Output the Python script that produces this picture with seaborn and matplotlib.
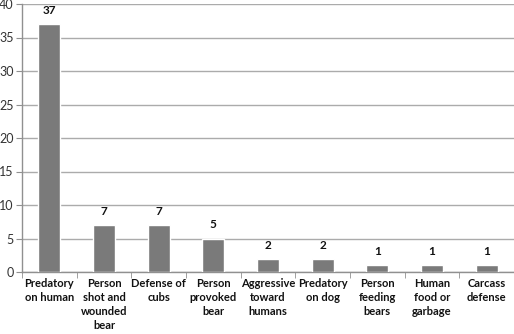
import matplotlib
matplotlib.use("Agg")
import matplotlib.pyplot as plt
import seaborn as sns
import pandas as pd
from matplotlib.ticker import FixedLocator

categories = ["Predatory\non human", "Person\nshot and\nwounded\nbear", "Defense of\ncubs",
              "Person\nprovoked\nbear", "Aggressive\ntoward\nhumans", "Predatory\non dog",
              "Person\nfeeding\nbears", "Human\nfood or\ngarbage", "Carcass\ndefense"]
counts = [37, 7, 7, 5, 2, 2, 1, 1, 1]
yticks = [0, 5, 10, 15, 20, 25, 30, 35, 40]

sns.set_style("white")
plt.rcParams['font.family'] = ['Lato', 'DejaVu Sans']

df = pd.DataFrame({"cat": categories, "n": counts})
fig = plt.figure(figsize=(5.14, 3.34), dpi=100)
ax = fig.add_axes([22/514, 1-272/334, 1-22/514, (272-4)/334])
sns.barplot(data=df, x="cat", y="n", color="#7a7a7a", saturation=1, width=0.4, ax=ax, zorder=3)
ax.set_ylim(0, 40)
ax.set_xlim(-0.5, len(categories)-0.5)
ax.set_yticks(yticks)
ax.set_xlabel("")
ax.set_ylabel("")
ax.grid(axis="y", color="#ababab", linewidth=1, zorder=0)
for s in ["top", "right"]:
    ax.spines[s].set_visible(False)
for s in ["left", "bottom"]:
    ax.spines[s].set_color("#909090")
    ax.spines[s].set_linewidth(1)
ax.tick_params(axis="y", length=4, color="#909090", labelsize=9, labelcolor="#333333", pad=2, left=True)
ax.tick_params(axis="x", length=0, labelsize=8, labelcolor="#111111", pad=4)
for lab in ax.get_xticklabels():
    lab.set_fontweight("bold")
    lab.set_linespacing(1.35)
# minor ticks between categories
ax.xaxis.set_minor_locator(FixedLocator([i + 0.5 for i in range(-1, len(categories))]))
ax.tick_params(axis="x", which="minor", length=4, color="#909090", bottom=True)
for i, v in enumerate(counts):
    ax.text(i, v + 1.2, str(v), ha="center", va="bottom", fontsize=8.5, fontweight="bold", color="#111111")
fig.savefig("out.png", dpi=100)
